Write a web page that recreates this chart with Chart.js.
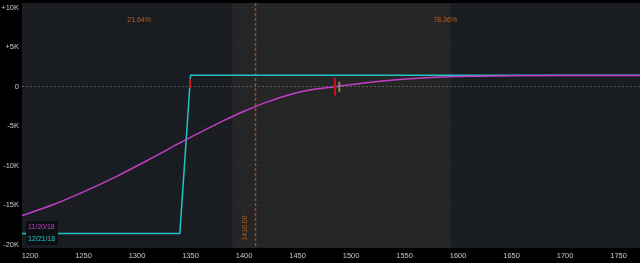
<!DOCTYPE html>
<html>
<head>
<meta charset="utf-8">
<script src="https://cdn.jsdelivr.net/npm/chart.js@4.4.1/dist/chart.umd.min.js"></script>
<style>
  html, body { margin: 0; padding: 0; background: #000; }
  #wrap { width: 640px; height: 263px; }
</style>
</head>
<body>
<div id="wrap"><canvas id="pl"></canvas></div>
<script>
// price axis ticks and P/L axis ticks
const xTicks = [1200, 1250, 1300, 1350, 1400, 1450, 1500, 1550, 1600, 1650, 1700, 1750];
const yTicks = [-20000, -15000, -10000, -5000, 0, 5000, 10000];

// 11/20/18 curve (today's P/L)
const nearPrices = [1192.5, 1220, 1250, 1280, 1310, 1340, 1360, 1380, 1400, 1420, 1440, 1460, 1485, 1510, 1540, 1570, 1600, 1650, 1700, 1770];
const nearPL = [-16300, -15000, -13300, -11400, -9300, -7100, -5700, -4350, -3100, -2000, -1100, -450, 0, 450, 850, 1130, 1300, 1380, 1420, 1440];

// 12/21/18 curve (expiration P/L)
const expPrices = [1192.5, 1340, 1350, 1770];
const expPL = [-18550, -18550, 1450, 1450];

// probability zones, current price line, percentages
const zoneEdges = [1389, 1593.5];
const priceLine = 1410;
const probLabels = ['21.64%', '78.36%'];
const probAt = [1302, 1588];

// small markers
const markX = [1485, 1489, 1349.5];
const markY = [0, 0, 440];

const orange = '#c0601c';

function pts(xs, ys) {
    return xs.map((x, i) => ({ x: x, y: ys[i] }));
}

// paint plot background + shaded zone
const backdrop = {
    id: 'backdrop',
    beforeDraw(chart) {
        const { ctx, chartArea: a, scales: { x } } = chart;
        ctx.save();
        ctx.fillStyle = '#191c20';
        ctx.fillRect(a.left, a.top, a.right - a.left, a.bottom - a.top);
        const x0 = x.getPixelForValue(zoneEdges[0]);
        const x1 = x.getPixelForValue(zoneEdges[1]);
        ctx.fillStyle = '#252525';
        ctx.fillRect(x0, a.top, x1 - x0, a.bottom - a.top);
        ctx.restore();
    },
    beforeDatasetsDraw(chart) {
        const { ctx, chartArea: a, scales: { x } } = chart;
        const px = Math.round(x.getPixelForValue(priceLine)) + 0.5;
        ctx.save();
        ctx.strokeStyle = '#9a4c1c';
        ctx.lineWidth = 1.6;
        ctx.setLineDash([3, 2]);
        ctx.beginPath();
        ctx.moveTo(px, a.top);
        ctx.lineTo(px, a.bottom);
        ctx.stroke();
        ctx.setLineDash([]);
        // rotated price label
        ctx.fillStyle = orange;
        ctx.font = '7px "Liberation Sans", sans-serif';
        ctx.translate(px - 10, a.bottom - 20);
        ctx.rotate(-Math.PI / 2);
        ctx.textAlign = 'center';
        ctx.textBaseline = 'middle';
        ctx.fillText(priceLine.toFixed(2), 0, 0);
        ctx.restore();
    },
    afterDraw(chart) {
        const { ctx, chartArea: a, scales: { x } } = chart;
        ctx.save();
        ctx.font = '7px "Liberation Sans", sans-serif';
        ctx.textAlign = 'center';
        ctx.textBaseline = 'middle';
        ctx.fillStyle = orange;
        probLabels.forEach((t, i) => {
            ctx.fillText(t, x.getPixelForValue(probAt[i]), a.top + 17);
        });
        // legend box bottom-left
        ctx.fillStyle = '#0d1013';
        ctx.fillRect(a.left + 4, a.bottom - 27, 32, 24);
        ctx.textAlign = 'left';
        ctx.fillStyle = '#c040c8';
        ctx.fillText('11/20/18', a.left + 6, a.bottom - 21);
        ctx.fillStyle = '#20c4c4';
        ctx.fillText('12/21/18', a.left + 6, a.bottom - 9);
        ctx.restore();
    }
};

new Chart(document.getElementById('pl'), {
    type: 'scatter',
    data: {
        datasets: [
            {
                label: 'marks',
                data: pts(markX, markY),
                pointStyle: 'line',
                rotation: 90,
                radius: [9, 5, 4.5],
                borderWidth: 2,
                borderColor: ['#c0141e', '#8a8a50', '#c0141e'],
                order: 0
            },
            {
                label: '11/20/18',
                data: pts(nearPrices, nearPL),
                showLine: true,
                borderColor: '#c040c8',
                borderWidth: 1.5,
                pointRadius: 0,
                cubicInterpolationMode: 'monotone',
                order: 1
            },
            {
                label: '12/21/18',
                data: pts(expPrices, expPL),
                showLine: true,
                borderColor: '#20c4c4',
                borderWidth: 1.5,
                pointRadius: 0,
                order: 2
            }
        ]
    },
    options: {
        responsive: true,
        maintainAspectRatio: false,
        animation: false,
        layout: { autoPadding: false, padding: { top: 3, right: 0, left: 0, bottom: 0 } },
        plugins: { legend: { display: false }, tooltip: { enabled: false } },
        scales: {
            x: {
                type: 'linear',
                min: 1192.5,
                max: 1770,
                afterBuildTicks: s => { s.ticks = xTicks.map(v => ({ value: v })); },
                afterFit: s => { s.height = 15; s.paddingLeft = 0; s.paddingRight = 0; },
                grid: {
                    color: 'rgba(255,255,255,0.045)',
                    drawTicks: false
                },
                border: { display: false, dash: [1, 2] },
                ticks: {
                    color: '#c8c8c8',
                    font: { family: 'Liberation Sans', size: 7.5 },
                    padding: 3,
                    maxRotation: 0,
                    autoSkip: false,
                    callback: v => String(v)
                }
            },
            y: {
                min: -20400,
                max: 10600,
                afterBuildTicks: s => { s.ticks = yTicks.map(v => ({ value: v })); },
                afterFit: s => { s.width = 22; s.paddingTop = 0; s.paddingBottom = 0; },
                grid: {
                    color: c => c.tick && c.tick.value === 0 ? 'rgba(130,130,130,0.6)' : 'rgba(255,255,255,0.045)',
                    drawTicks: false
                },
                border: { display: false, dash: [2, 2] },
                ticks: {
                    color: '#c8c8c8',
                    font: { family: 'Liberation Sans', size: 7.5 },
                    padding: 3,
                    callback: v => v === 0 ? '0' : (v > 0 ? '+' : '-') + Math.abs(v) / 1000 + 'K'
                }
            }
        }
    },
    plugins: [backdrop]
});
</script>
</body>
</html>
